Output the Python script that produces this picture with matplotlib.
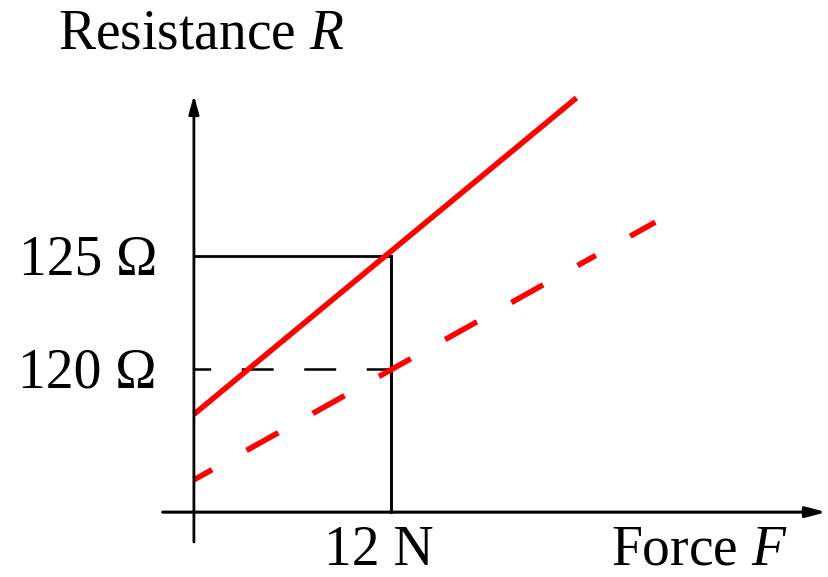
import matplotlib
matplotlib.use("Agg")
import matplotlib.pyplot as plt

# data
force_tick = 12
force_tick_label = "12 N"
resistance_ticks = [120, 125]
resistance_tick_labels = ["120 Ω", "125 Ω"]

solid_force = [0, 23.3]
solid_resistance = [118, 132]
dashed_force = [0, 28.1]
dashed_resistance = [115.1, 126.5]

plt.rcParams["font.family"] = "Liberation Serif"
plt.rcParams["mathtext.fontset"] = "custom"
plt.rcParams["mathtext.rm"] = "Liberation Serif"
plt.rcParams["mathtext.it"] = "Liberation Serif:italic"
plt.rcParams["lines.scale_dashes"] = False

fig = plt.figure(figsize=(8.29, 5.77), dpi=100)
ax = fig.add_axes([0, 0, 1, 1])
ax.set_xlim(-11.81, 38.68)
ax.set_ylim(110.80, 136.33)
ax.axis("off")

x_axis_r = 113.67
# axes with arrows
ax.annotate("", xy=(38.5, x_axis_r), xytext=(-1.9, x_axis_r),
            arrowprops=dict(arrowstyle="-|>,head_length=1.2,head_width=0.32",
                            lw=2.2, color="black", shrinkA=0, shrinkB=0))
ax.annotate("", xy=(0, 132.12), xytext=(0, 112.35),
            arrowprops=dict(arrowstyle="-|>,head_length=1.1,head_width=0.3",
                            lw=2.0, color="black", shrinkA=0, shrinkB=0))

# guide lines
ax.plot([0, force_tick], [resistance_ticks[1]] * 2, color="black", lw=2.0)
ax.plot([force_tick, force_tick], [x_axis_r, resistance_ticks[1]], color="black", lw=2.1)
ln, = ax.plot([0, force_tick], [resistance_ticks[0]] * 2, color="black", lw=1.8)
ln.set_dashes((12, 22, 23, 22, 23, 22, 23, 22))

# red lines
ax.plot(solid_force, solid_resistance, color="#ff0000", lw=4.0, solid_capstyle="butt")
ln2, = ax.plot(dashed_force, dashed_resistance, color="#ff0000", lw=4.0)
ln2.set_dashes((15, 28.4, 26.2, 28.4, 26.2, 28.4, 26.2, 28.4, 26.2, 28.4, 26.2, 28.4))

# labels (bottom ones nudged up a little so the text box stays inside)
for r, lab in zip(resistance_ticks, resistance_tick_labels):
    ax.text(-2.25, r - 0.82, lab, fontsize=40, ha="right", va="baseline")
ax.text(11.27, 111.35, force_tick_label, fontsize=40, ha="center", va="baseline")
ax.text(36.18, 111.35, "Force $F$", fontsize=40, ha="right", va="baseline")
ax.text(-8.3, 134.2, "Resistance $R$", fontsize=40, ha="left", va="baseline")

fig.savefig("out.png", dpi=100)
